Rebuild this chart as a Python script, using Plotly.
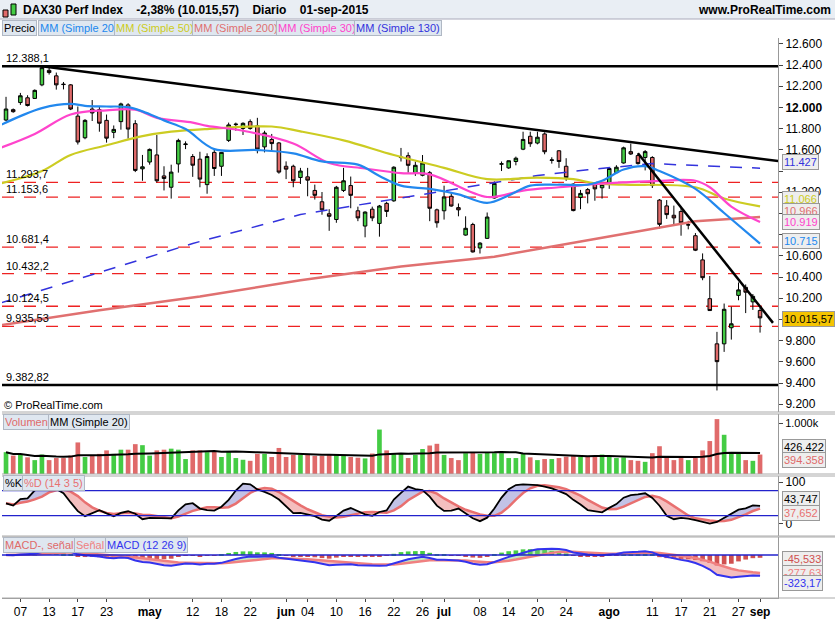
import numpy as np
import pandas as pd
import plotly.graph_objects as go

W, H = 835, 620

# ---------------- data ----------------
opens = [11881,11979,12046,12091,12085,12213,12350,12298,12220,12213,11918,11714,11985,11979,11878,11765,11866,12024,11847,11421,
         11485,11552,11354,11247,11467,11650,11537,11512,11272,11576,11445,11689,11838,11802,11866,11826,11628,11698,11665,11445,
         11445,11339,11345,11217,11110,10997,10943,11217,11263,11025,10881,11040,10906,11095,11119,11527,11545,11384,11360,11384,
         11034,11025,11162,11055,10796,10896,10674,10765,11146,11465,11430,11490,11606,11728,11664,11750,11500,11591,11445,11277,
         11150,11225,11272,11242,11287,11385,11476,11583,11546,11528,11528,11126,11071,10983,11019,10891,10790,10562,10196,9770,
         9770,9922,10227,10303,10166,10085]
highs = [12100,11990,12137,12115,12170,12388,12385,12329,12240,12220,12009,11890,12070,12009,11933,11830,12045,12040,11880,11552,
         11613,11740,11445,11460,11705,11680,11560,11582,11567,11613,11580,11857,11857,11860,11887,11902,11780,11750,11674,11491,
         11460,11430,11430,11272,11202,11040,11260,11430,11348,11064,11020,11064,11080,11110,11445,11618,11576,11490,11551,11400,
         11045,11262,11201,11094,10973,10912,10730,11009,11302,11490,11500,11536,11771,11771,11771,11765,11530,11597,11521,11283,
         11222,11240,11293,11280,11430,11455,11630,11659,11568,11598,11540,11135,11126,11074,11050,10930,10815,10623,10410,9883,
         10150,10120,10349,10330,10240,10110]
lows = [11872,11950,12024,12009,12080,12200,12310,12168,12170,11975,11650,11700,11872,11771,11668,11710,11790,11705,11390,11308,
        11460,11293,11217,11140,11385,11607,11345,11247,11186,11354,11354,11674,11780,11740,11790,11567,11576,11582,11375,11324,
        11247,11278,11162,11131,10988,10836,10912,11202,11049,10927,10775,10927,10781,10967,11110,11490,11384,11354,11350,10927,
        10866,10942,11064,10973,10790,10631,10622,10759,11140,11400,11420,11454,11597,11628,11652,11558,11470,11430,11308,11020,
        11040,11095,11120,11140,11232,11380,11470,11552,11461,11406,11240,10858,10949,10882,10790,10850,10645,10370,10080,9330,
        9694,9810,10181,10060,10090,9876]
closes = [11985,11960,12110,12018,12161,12375,12329,12213,12216,11985,11674,11878,11948,11851,11710,11793,12033,11796,11406,11440,
          11604,11308,11330,11390,11689,11655,11455,11324,11537,11424,11576,11835,11842,11850,11802,11607,11759,11659,11390,11418,
          11308,11400,11314,11171,11034,10973,11247,11308,11171,10958,11013,10958,11070,11019,11436,11530,11454,11454,11475,11049,
          10912,11155,11070,11034,10860,10637,10720,10966,11283,11468,11497,11521,11698,11658,11719,11582,11505,11490,11338,11027,
          11189,11186,11232,11272,11424,11436,11619,11561,11470,11583,11263,10897,10989,10958,10912,10893,10653,10394,10084,9602,
          10096,9959,10279,10257,10218,10015]
volumes_k = [431,363,384,329,274,384,274,315,315,363,623,336,363,397,466,397,480,480,589,569,
             363,466,480,500,480,295,466,466,432,445,336,445,315,281,260,397,397,336,514,336,
             377,377,377,356,356,377,377,377,336,322,308,404,877,466,397,397,315,377,493,562,
             596,377,315,274,411,432,397,432,411,411,315,315,411,329,274,295,295,315,342,
             356,336,356,363,384,336,315,329,274,260,240,411,548,342,274,315,274,315,466,
             650,1083,774,432,397,274,260,384]
tick_idx = [2,6,10,14,20,26,30,34,39,42,46,50,54,58,61,66,70,74,78,84,90,94,98,102,105]
tick_txt = ["07","13","17","23","<b>may</b>","12","18","22","<b>jun</b>","04","10","16","22","26","<b>jul</b>",
            "08","14","20","24","<b>ago</b>","11","17","21","27","<b>sep</b>"]
price_ticks = [9200,9400,9600,9800,10000,10200,10400,10600,10800,11000,11200,11400,11600,11800,12000,12200,12400,12600]
price_tick_txt = ["9.200","9.400","9.600","9.800","","10.200","10.400","10.600","","","11.200","","11.600","11.800",
                  "<b>12.000</b>","12.200","12.400","12.600"]

sma20_idx = [-1,2,5,9,11,14,17,19,22,25,29,35,40,44,49,52,55,59,63,67,70,73,77,81,83,86,89,91,96,100,105]
sma20_val = [11826,11918,11994,12033,12015,12009,12003,11963,11878,11796,11607,11598,11567,11491,11461,11354,11262,
             11232,11180,11100,11170,11262,11271,11271,11308,11415,11446,11400,11232,11004,10715]
sma50_idx = [-1,5,9,14,19,23,28,37,41,47,54,61,67,74,79,82,86,96,100,105]
sma50_val = [11278,11400,11552,11643,11729,11771,11796,11820,11774,11689,11551,11430,11323,11338,11323,11283,11272,
             11247,11141,11066]
sma30_idx = [-1,4,9,14,18,21,26,28,33,40,45,50,55,59,67,72,77,82,86,91,96,98,101,105]
sma30_val = [11613,11750,11933,11973,11979,11902,11857,11826,11780,11659,11476,11424,11380,11369,11155,11216,11247,
             11277,11293,11308,11308,11247,11065,10919]
sma200_idx = [-1,13,27,41,55,68,82,96,105]
sma200_val = [9943,10087,10217,10370,10500,10592,10759,10927,10966]
sma130_idx = [-1,20,26,41,57,74,81,90,105]
sma130_val = [10150,10592,10717,10990,11165,11357,11412,11470,11427]

levels = [11293.7,11153.6,10681.4,10432.2,10124.5,9935.53]
level_txt = ["11.293,7","11.153,6","10.681,4","10.432,2","10.124,5","9.935,53"]
solid_levels = [12388.1,9382.82]
solid_txt = ["12.388,1","9.382,82"]
trend1 = [(5,12388),(107.6,11494)]
trend2 = [(88,11568),(106.8,9968)]

# ---------------- derived ----------------
n = len(closes)
idx = list(range(n))
df = pd.DataFrame({"o": opens, "h": highs, "l": lows, "c": closes, "v": volumes_k})
vol_ma = df.v.rolling(20, min_periods=1).mean()
ll = df.l.rolling(14, min_periods=1).min(); hh = df.h.rolling(14, min_periods=1).max()
rawk = 100 * (df.c - ll) / (hh - ll)
k = rawk.rolling(3, min_periods=1).mean()
d = k.rolling(5, min_periods=1).mean()
ema12 = df.c.ewm(span=12, adjust=False).mean(); ema26 = df.c.ewm(span=26, adjust=False).mean()
macd = ema12 - ema26; sig = macd.ewm(span=9, adjust=False).mean(); hist = macd - sig
up = [c >= o for o, c in zip(opens, closes)]
GREEN, RED = "#44cc44", "#e06a6a"

def py(p):  # pixel y -> paper
    return 1 - p / H

fig = go.Figure()
X0, X1 = 2 / W, 778 / W
fig.update_layout(
    width=W, height=H, margin=dict(l=0, r=0, t=0, b=0), plot_bgcolor="white", paper_bgcolor="white",
    showlegend=False, separators=",.", font=dict(family="Liberation Sans, Arial", size=11, color="black"),
    xaxis=dict(domain=[X0, X1], range=[-0.56, 107.5], anchor="y4", tickvals=tick_idx, ticktext=tick_txt,
               ticks="outside", ticklen=3, showgrid=False, showline=True, linecolor="#999",
               tickfont=dict(size=12), rangeslider=dict(visible=False)),
    yaxis=dict(domain=[py(412), py(38)], range=[9127, 12655], side="right", anchor="x", tickvals=price_ticks,
               ticktext=price_tick_txt, ticks="outside", ticklen=4, showgrid=False, showline=True,
               linecolor="#999", tickfont=dict(size=12)),
    yaxis2=dict(domain=[py(474), py(414)], range=[0, 1184], side="right", anchor="x", tickvals=[1000],
                ticktext=["1.000k"], ticks="outside", ticklen=4, showgrid=False, showline=True, linecolor="#999"),
    yaxis3=dict(domain=[py(536), py(476)], range=[-29, 115], side="right", anchor="x", tickvals=[0, 100],
                ticktext=["0", "100"], ticks="outside", ticklen=4, showgrid=False, showline=True, linecolor="#999",
                tickfont=dict(size=12)),
    yaxis4=dict(domain=[py(598), py(537)], range=[-671, 281], side="right", anchor="x", showticklabels=False,
                ticks="", showgrid=False, showline=True, linecolor="#999", zeroline=False),
)

# MAs
fig.add_trace(go.Scatter(x=sma200_idx, y=sma200_val, mode="lines", line=dict(color="#e07070", width=2.5)))
fig.add_trace(go.Scatter(x=sma130_idx, y=sma130_val, mode="lines", line=dict(color="#3333dd", width=1.5, dash="12px,10px")))
fig.add_trace(go.Scatter(x=sma50_idx, y=sma50_val, mode="lines", line=dict(color="#cccc22", width=2.2), line_shape="spline"))
fig.add_trace(go.Scatter(x=sma30_idx, y=sma30_val, mode="lines", line=dict(color="#ff44cc", width=2.2), line_shape="spline"))
fig.add_trace(go.Scatter(x=sma20_idx, y=sma20_val, mode="lines", line=dict(color="#2288ee", width=2.2), line_shape="spline"))

fig.add_trace(go.Candlestick(x=idx, open=opens, high=highs, low=lows, close=closes, whiskerwidth=0,
                             increasing=dict(fillcolor=GREEN, line=dict(color="black", width=1)),
                             decreasing=dict(fillcolor=RED, line=dict(color="black", width=1))))

# volume
fig.add_trace(go.Bar(x=idx, y=volumes_k, yaxis="y2", marker=dict(color=[GREEN if u else RED for u in up],
                     line=dict(width=0)), width=0.65))
fig.add_trace(go.Scatter(x=idx, y=vol_ma, yaxis="y2", mode="lines", line=dict(color="black", width=2)))

# stochastic fills
kmax = np.maximum(k, d); kmin = np.minimum(k, d)
fig.add_trace(go.Scatter(x=idx, y=d, yaxis="y3", mode="lines", line=dict(width=0), hoverinfo="skip"))
fig.add_trace(go.Scatter(x=idx, y=kmax, yaxis="y3", mode="lines", line=dict(width=0), fill="tonexty",
                         fillcolor="rgba(120,120,200,0.45)"))
fig.add_trace(go.Scatter(x=idx, y=d, yaxis="y3", mode="lines", line=dict(width=0), hoverinfo="skip"))
fig.add_trace(go.Scatter(x=idx, y=kmin, yaxis="y3", mode="lines", line=dict(width=0), fill="tonexty",
                         fillcolor="rgba(230,110,110,0.45)"))
fig.add_trace(go.Scatter(x=idx, y=d, yaxis="y3", mode="lines", line=dict(color="#e87070", width=2.5)))
fig.add_trace(go.Scatter(x=idx, y=k, yaxis="y3", mode="lines", line=dict(color="black", width=1.8)))

# macd
fig.add_trace(go.Bar(x=idx, y=hist, yaxis="y4", marker=dict(color=[GREEN if h > 0 else "#d05050" for h in hist],
                     line=dict(width=0)), width=0.65))
mmax = np.maximum(macd, sig); mmin = np.minimum(macd, sig)
fig.add_trace(go.Scatter(x=idx, y=sig, yaxis="y4", mode="lines", line=dict(width=0), hoverinfo="skip"))
fig.add_trace(go.Scatter(x=idx, y=mmax, yaxis="y4", mode="lines", line=dict(width=0), fill="tonexty",
                         fillcolor="rgba(120,200,120,0.45)"))
fig.add_trace(go.Scatter(x=idx, y=sig, yaxis="y4", mode="lines", line=dict(width=0), hoverinfo="skip"))
fig.add_trace(go.Scatter(x=idx, y=mmin, yaxis="y4", mode="lines", line=dict(width=0), fill="tonexty",
                         fillcolor="rgba(230,110,110,0.45)"))
fig.add_trace(go.Scatter(x=idx, y=sig, yaxis="y4", mode="lines", line=dict(color="#f08080", width=2.5)))
fig.add_trace(go.Scatter(x=idx, y=macd, yaxis="y4", mode="lines", line=dict(color="#3333ee", width=2)))

shapes = []
for lv in levels:
    shapes.append(dict(type="line", xref="paper", x0=X0, x1=X1, yref="y", y0=lv, y1=lv,
                       line=dict(color="#ee2222", width=1.3, dash="12px,10px"), layer="below"))
for lv in solid_levels:
    shapes.append(dict(type="line", xref="paper", x0=X0, x1=X1, yref="y", y0=lv, y1=lv, line=dict(color="black", width=2.5)))
for (a, b) in (trend1, trend2):
    shapes.append(dict(type="line", xref="x", yref="y", x0=a[0], y0=a[1], x1=b[0], y1=b[1], line=dict(color="black", width=2.5)))
for v in (20, 80):
    shapes.append(dict(type="line", xref="paper", x0=X0, x1=X1, yref="y3", y0=v, y1=v, line=dict(color="#2222cc", width=1.3)))
shapes.append(dict(type="line", xref="paper", x0=X0, x1=X1, yref="y4", y0=0, y1=0, line=dict(color="#2222cc", width=1.3)))
shapes.append(dict(type="rect", xref="paper", yref="paper", x0=0, x1=1, y0=py(19), y1=1, fillcolor="#e9eef4",
                   line=dict(width=0), layer="below"))
shapes.append(dict(type="line", xref="paper", yref="paper", x0=0, x1=1, y0=py(19), y1=py(19), line=dict(color="#aab", width=1)))
for yy in (412, 414, 474, 476, 536, 537, 598):
    shapes.append(dict(type="line", xref="paper", yref="paper", x0=X0, x1=1, y0=py(yy), y1=py(yy),
                       line=dict(color="#aaa", width=1)))
shapes.append(dict(type="rect", xref="paper", yref="paper", x0=3/W, x1=8/W, y0=py(17), y1=py(10), fillcolor=RED, line=dict(color="black", width=1)))
shapes.append(dict(type="rect", xref="paper", yref="paper", x0=11/W, x1=16/W, y0=py(15), y1=py(4), fillcolor=GREEN, line=dict(color="black", width=1)))

ann = []
def A(x, y, t, color="black", size=11, bg=None, border=None, anchor="left", bold=False):
    ann.append(dict(xref="paper", yref="paper", x=x / W, y=py(y), text=("<b>%s</b>" % t) if bold else t,
                    showarrow=False, xanchor=anchor, yanchor="middle", font=dict(size=size, color=color),
                    bgcolor=bg, bordercolor=border, borderwidth=1 if border else 0, borderpad=1))
A(22, 10, "DAX30 Perf Index    -2,38% (10.015,57)    Diario    01-sep-2015", size=12, bold=True)
A(832, 10, "www.ProRealTime.com", size=12, anchor="right", bold=True)
leg = [("Precio", "black", 2), ("MM (Simple 20)", "#2288ee", 38), ("MM (Simple 50)", "#cccc22", 114),
       ("MM (Simple 200)", "#e07070", 192), ("MM (Simple 30)", "#ff44cc", 276), ("MM (Simple 130)", "#3333dd", 354)]
for t, c, x in leg:
    A(x, 28, t, color=c, bg="#dfe7f0", border="#b0b8c4")
for t, lv in zip(level_txt + solid_txt, levels + solid_levels):
    ann.append(dict(xref="paper", yref="y", x=4 / W, y=lv, text=t, showarrow=False, xanchor="left",
                    yanchor="bottom", font=dict(size=11)))
A(3, 405, "© ProRealTime.com", size=11)
A(3, 422, "Volumen", color="#e06a6a", bg="#dfe7f0", border="#b0b8c4")
A(48, 422, "MM (Simple 20)", bg="#dfe7f0", border="#b0b8c4")
A(3, 483, "%K", bg="#dfe7f0", border="#b0b8c4")
A(22, 483, "%D (14 3 5)", color="#e87070", bg="#dfe7f0", border="#b0b8c4")
A(3, 545, "MACD-, señal", color="#e06a6a", bg="#dfe7f0", border="#b0b8c4")
A(74, 545, "Señal", color="#f08080", bg="#dfe7f0", border="#b0b8c4")
A(105, 545, "MACD (12 26 9)", color="#3333ee", bg="#dfe7f0", border="#b0b8c4")
right = [("11.427", "#3333dd", 162, "#eeeeee"), ("11.066", "#cccc22", 199, "#eeeeee"), ("10.966", "#e07070", 211, "#eeeeee"),
         ("10.919", "#ff44cc", 222, "#eeeeee"), ("10.715", "#2288ee", 241, "#eeeeee"), ("10.015,57", "black", 319, "#f5c400"),
         ("426.422", "black", 447, "#eeeeee"), ("394.358", "#e06a6a", 460, "#eeeeee"),
         ("43,747", "black", 499, "#eeeeee"), ("37,652", "#e87070", 513, "#eeeeee"),
         ("-45,533", "#d05050", 559, "#eeeeee"), ("-277,63", "#f08080", 573, "#eeeeee"), ("-323,17", "#3333ee", 583, "#eeeeee")]
for t, c, y, bg in right:
    A(782, y, t, color=c, size=11, bg=bg, border="#999")
fig.update_layout(shapes=shapes, annotations=ann)
fig.write_html("out.html", config={"displayModeBar": False},
               post_script="document.body.style.margin='0';document.body.style.overflow='hidden';")
